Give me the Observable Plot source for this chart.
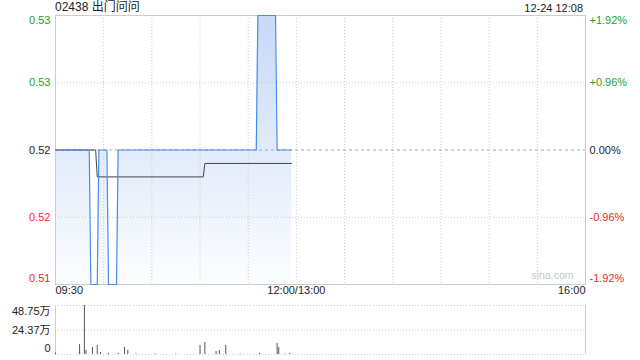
<!DOCTYPE html>
<html><head><meta charset="utf-8">
<script src="https://cdn.jsdelivr.net/npm/d3@7"></script>
<script src="https://cdn.jsdelivr.net/npm/@observablehq/plot@0.6"></script>
<style>
body{margin:0;background:#fff;font-family:"Liberation Sans","Noto Sans CJK SC",Arial,sans-serif;}
#wrap{position:relative;width:640px;height:360px;overflow:hidden;background:#fff}
.hdr{position:absolute;top:0;color:#222;line-height:16px;white-space:nowrap}
</style></head><body>
<div id="wrap">
<div id="main" style="position:absolute;left:0;top:0"></div>
<div id="vol" style="position:absolute;left:0;top:300px"></div>
<div class="hdr" style="left:55px;top:-1px;font-size:12px">02438 出门问问</div>
<div class="hdr" style="right:57px;font-size:11px">12-24 12:08</div>
</div>
<script>
// ---- data ----
const prevClose = 0.52;
const priceTimes  = ["09:30","09:51","09:52","09:56","09:57","10:02","10:03","10:08","10:09","11:35","11:36","11:47","11:48","11:57"];
const priceValues = [0.52,   0.52,   0.51,   0.51,   0.52,   0.52,   0.51,   0.51,   0.52,   0.52,   0.53,   0.53,   0.52,   0.52];
const avgTimes  = ["09:30","09:55","09:56","11:02","11:03","11:57"];
const avgValues = [0.52,   0.52,   0.518,  0.518,  0.519,  0.519];
const volTimes  = ["09:30","09:45","09:48","09:49","09:53","09:56","09:58","10:03","10:09","10:13","10:15","10:20","10:32","10:45","11:00","11:03","11:10","11:12","11:16","11:25","11:37","11:48","11:49","11:53","11:56"];
const volValues = [1.5,    10,     48.75,  4,      7,      9,      2,      1,      1,      7,      4,      0.5,    0.5,    0.5,    9,      12,     3,      4,      9,      0.5,    1,      11,     7,      0.5,    1];
const yTickValues = [0.51, 0.515, 0.52, 0.525, 0.53];
const yTickLabels = ["0.51","0.52","0.52","0.53","0.53"];
const pctLabels   = ["-1.92%","-0.96%","0.00%","+0.96%","+1.92%"];
const gridTimes   = ["10:00","10:30","11:00","11:30","12:00","13:30","14:00","14:30","15:00","15:30"];
const xLabels     = ["09:30","12:00/13:00","16:00"];
const volTickValues = [0, 24.37, 48.75];
const volTickLabels = ["0","24.37万","48.75万"];
const sessionTimes = ["09:30","16:00"];

// ---- helpers ----
const toIdx = t => { const [h,m] = t.split("/")[0].split(":").map(Number); let v = h*60 + m - 570; if (h >= 13) v -= 60; return v; };
const colorOf = v => v > prevClose + 1e-9 ? "#1f9f1f" : v < prevClose - 1e-9 ? "#f02828" : "#222";
const xDomain = sessionTimes.map(toIdx);
const priceData = priceTimes.map((t,i) => ({m: toIdx(t), p: priceValues[i]}));
const avgData = avgTimes.map((t,i) => ({m: toIdx(t), p: avgValues[i]}));
const volData = volTimes.map((t,i) => ({m: toIdx(t), v: volValues[i]}));
const ticks = yTickValues.map((v,i) => ({v, l: yTickLabels[i], r: pctLabels[i], c: colorOf(v)}));
const gridX = gridTimes.map(toIdx);
const xl = xLabels.map(t => ({m: toIdx(t), t}));
const yMin = d3.min(yTickValues), yMax = d3.max(yTickValues);
const vt = volTickValues.map((v,i) => ({v, l: volTickLabels[i]}));

const font = `"Liberation Sans","Noto Sans CJK SC",Arial,sans-serif`;
const gradMark = () => {
  const defs = d3.create("svg:defs");
  const g = defs.append("linearGradient").attr("id","pg").attr("x1",0).attr("y1",0).attr("x2",0).attr("y2",1);
  g.append("stop").attr("offset","0%").attr("stop-color","#c7d9f6");
  g.append("stop").attr("offset","100%").attr("stop-color","#fcfdff");
  return defs.node();
};
const midTicks = ticks.slice(1, ticks.length - 1);
const topTicks = [ticks[ticks.length - 1]];
const botTicks = [ticks[0]];
const leftLab = (data, dy) => Plot.text(data, {y: "v", text: "l", fill: "c", frameAnchor: "left", dx: -5, dy, textAnchor: "end", fontSize: 11});
const rightLab = (data, dy) => Plot.text(data, {y: "v", text: "r", fill: "c", frameAnchor: "right", dx: 4, dy, textAnchor: "start", fontSize: 11});

const mainChart = Plot.plot({
  width: 640, height: 300,
  marginLeft: 55, marginRight: 55, marginTop: 15, marginBottom: 16,
  x: {domain: xDomain, axis: null},
  y: {domain: [yMin, yMax], axis: null},
  color: {type: "identity"},
  style: {background: "transparent", fontFamily: font, fontSize: "11px", color: "#222"},
  marks: [
    gradMark,
    Plot.areaY(priceData, {x: "m", y1: yMin, y2: "p", fill: "url(#pg)", curve: "linear"}),
    Plot.ruleX(gridX, {stroke: "#ccc", strokeDasharray: "1,2"}),
    Plot.ruleY(yTickValues.filter(v => v !== prevClose && v !== yMin && v !== yMax), {stroke: "#ccc", strokeDasharray: "1,2"}),
    Plot.ruleY([prevClose], {stroke: "#aaa", strokeDasharray: "3,3"}),
    Plot.frame({stroke: "#ccc"}),
    Plot.text(["sina.com"], {frameAnchor: "bottom-right", dx: -12, dy: -6, fill: "#c8c8c8", fontSize: 10.5, textAnchor: "end"}),
    Plot.line(avgData, {x: "m", y: "p", stroke: "#444", strokeWidth: 1, curve: "linear"}),
    Plot.line(priceData, {x: "m", y: "p", stroke: "#4a8bf0", strokeWidth: 1.2, curve: "linear"}),
    leftLab(midTicks, 0), leftLab(topTicks, 5), leftLab(botTicks, -6),
    rightLab(midTicks, 0), rightLab(topTicks, 5), rightLab(botTicks, -6),
    Plot.text([xl[0]], {x: "m", text: "t", frameAnchor: "bottom", dy: 9, textAnchor: "start", fill: "#222", fontSize: 11}),
    Plot.text([xl[1]], {x: "m", text: "t", frameAnchor: "bottom", dy: 9, textAnchor: "middle", fill: "#222", fontSize: 11}),
    Plot.text([xl[2]], {x: "m", text: "t", frameAnchor: "bottom", dy: 9, textAnchor: "end", fill: "#222", fontSize: 11})
  ]
});
document.getElementById("main").append(mainChart);

const vmax = d3.max(volTickValues);
const volChart = Plot.plot({
  width: 640, height: 60,
  marginLeft: 55, marginRight: 55, marginTop: 5, marginBottom: 6,
  x: {domain: xDomain, axis: null},
  y: {domain: [0, vmax], axis: null},
  style: {background: "transparent", fontFamily: font, fontSize: "11px", color: "#222"},
  marks: [
    Plot.ruleY(volTickValues, {stroke: "#ccc", strokeDasharray: "1,2"}),
    Plot.ruleX(xDomain, {stroke: "#ccc"}),
    Plot.ruleX(volData, {x: "m", y1: 0, y2: "v", stroke: "#555", strokeWidth: 1}),
    Plot.text([vt[2]], {y: "v", text: "l", frameAnchor: "left", dx: -5, dy: 6, textAnchor: "end", fill: "#222", fontSize: 11}),
    Plot.text([vt[1]], {y: "v", text: "l", frameAnchor: "left", dx: -5, dy: 0, textAnchor: "end", fill: "#222", fontSize: 11}),
    Plot.text([vt[0]], {y: "v", text: "l", frameAnchor: "left", dx: -5, dy: -6, textAnchor: "end", fill: "#222", fontSize: 11})
  ]
});
document.getElementById("vol").append(volChart);
</script>
</body></html>
